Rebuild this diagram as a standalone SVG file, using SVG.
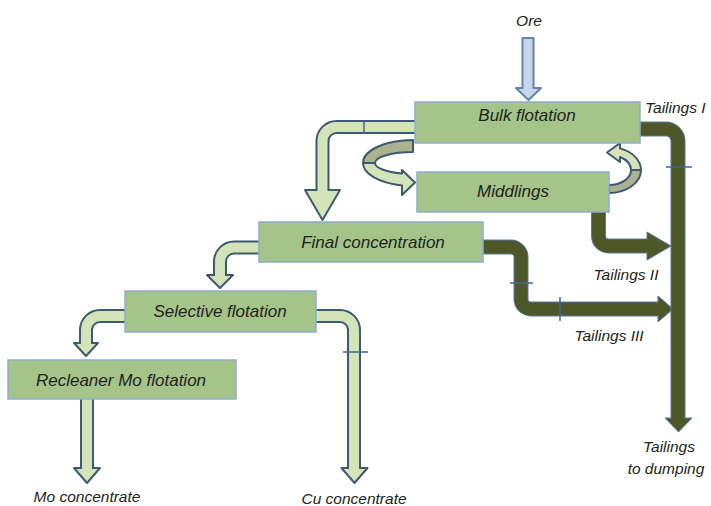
<svg xmlns="http://www.w3.org/2000/svg" width="711" height="506" viewBox="0 0 711 506">
<style>
text{font-family:"Liberation Sans",Arial,sans-serif;font-style:italic;fill:#231f20}
.bt{font-size:17px;text-anchor:middle}
.lb{font-size:15.5px}
.box{fill:#a4c48a;stroke:#8fadd0;stroke-width:1.5}
.po{fill:none;stroke:#3d5a73;stroke-width:14}
.pi{fill:none;stroke:#d5e4b8;stroke-width:10}
.ph{fill:#d5e4b8;stroke:#3d5a73;stroke-width:2;stroke-linejoin:round}
.to{fill:none;stroke:#5a7aa5;stroke-width:15}
.ti{fill:none;stroke:#4d5727;stroke-width:13}
.th{fill:#4d5727;stroke:#5a7aa5;stroke-width:1}
.tick{stroke:#3f64a0;stroke-width:1.5;fill:none}
.cdark{fill:#aab28f;stroke:#3d5a73;stroke-width:2;stroke-linejoin:round}
.clight{fill:#d5e4b8;stroke:#3d5a73;stroke-width:2;stroke-linejoin:round}
</style>
<rect width="711" height="506" fill="#ffffff"/>
<g id="connectors">
  <!-- Ore arrow -->
  <g id="ore-arrow">
    <path d="M522.5,38 H533.5 V88 H541 L528.5,100 L516,88 H522.5 Z" fill="#c6d6ec" stroke="#6584ac" stroke-width="2" stroke-linejoin="round"/>
  </g>
  <!-- Bulk -> Final concentration -->
  <g id="c-bulk-final">
    <path class="po" d="M415,127 H336.5 A14,14 0 0 0 322.5,141 V191"/>
    <polygon class="ph" points="305,190 340,190 322.5,220"/>
    <path class="pi" d="M416,127 H336.5 A14,14 0 0 0 322.5,141 V192"/>
    <line class="tick" x1="364" y1="120.5" x2="364" y2="133.5" stroke="#3d5a73"/>
  </g>
  <!-- Bulk -> Middlings curved arrow -->
  <g id="c-bulk-middlings">
    <path class="cdark" d="M413,140 A50,23 0 0 0 363,163 L375,163 A38,11 0 0 1 413,152 Z"/>
    <path class="clight" d="M363,163 A50,23 0 0 0 402,185.4 L402,195 L415,182.5 L402,170 L402,173.5 A38,11 0 0 1 375,163 Z"/>
  </g>
  <!-- Middlings -> Bulk curved arrow -->
  <g id="c-middlings-bulk">
    <path class="cdark" d="M609,193 A32,23 0 0 0 641,170 L631,170 A22,15 0 0 1 609,185 Z"/>
    <path class="clight" d="M641,170 A32,23 0 0 0 620,148.4 L620,143 L607,152.5 L620,162 L620,157 A22,15 0 0 1 631,170 Z"/>
  </g>
  <!-- Final -> Selective -->
  <g id="c-final-selective">
    <path class="po" d="M259,247.5 H234 A14,14 0 0 0 220,261.5 V276"/>
    <polygon class="ph" points="207,275 233,275 220,288"/>
    <path class="pi" d="M260,247.5 H234 A14,14 0 0 0 220,261.5 V277"/>
  </g>
  <!-- Selective -> Recleaner -->
  <g id="c-selective-recleaner">
    <path class="po" d="M125,316 H100 A14,14 0 0 0 86,330 V344"/>
    <polygon class="ph" points="74,343 98,343 86,356"/>
    <path class="pi" d="M126,316 H100 A14,14 0 0 0 86,330 V345"/>
  </g>
  <!-- Selective -> Cu concentrate -->
  <g id="c-selective-cu">
    <path class="po" d="M316,316 H340 A14,14 0 0 1 354,330 V469"/>
    <polygon class="ph" points="341.5,468 367.5,468 354.5,483"/>
    <path class="pi" d="M315,316 H340 A14,14 0 0 1 354,330 V470"/>
    <line class="tick" x1="343" y1="352" x2="368" y2="352" stroke="#3d5a73"/>
  </g>
  <!-- Recleaner -> Mo concentrate -->
  <g id="c-recleaner-mo">
    <path class="po" d="M87,399 V469"/>
    <polygon class="ph" points="74,468 100,468 87,483"/>
    <path class="pi" d="M87,398 V470"/>
  </g>
  <!-- Tailings II -->
  <g id="c-tailings2">
    <path class="to" d="M598.5,212 V236 A10,10 0 0 0 608.5,246 H648"/>
    <polygon class="th" points="647,232 647,260 671,246"/>
    <path class="ti" d="M598.5,212 V236 A10,10 0 0 0 608.5,246 H649"/>
  </g>
  <!-- Tailings III -->
  <g id="c-tailings3">
    <path class="to" d="M483,247 H511 A10,10 0 0 1 521,257 V299 A10,10 0 0 0 531,309 H659"/>
    <polygon class="th" points="658,296 658,322 673,309"/>
    <path class="ti" d="M483,247 H511 A10,10 0 0 1 521,257 V299 A10,10 0 0 0 531,309 H660"/>
    <line class="tick" x1="510" y1="283" x2="533" y2="283"/>
    <line class="tick" x1="560" y1="297" x2="560" y2="321"/>
  </g>
  <!-- Tailings I to dumping -->
  <g id="c-tailings1">
    <path class="to" d="M640,129 H666 A12,12 0 0 1 678,141 V419"/>
    <polygon class="th" points="665,418 692,418 678.5,432"/>
    <path class="ti" d="M640,129 H666 A12,12 0 0 1 678,141 V420"/>
    <line class="tick" x1="666" y1="167" x2="692" y2="167"/>
  </g>
</g>
<g id="bulk-flotation">
  <rect class="box" x="415" y="102" width="225" height="41"/>
  <text class="bt" x="527" y="121">Bulk flotation</text>
</g>
<g id="middlings">
  <rect class="box" x="417" y="172" width="192" height="40"/>
  <text class="bt" x="513" y="197">Middlings</text>
</g>
<g id="final-concentration">
  <rect class="box" x="259" y="222" width="224" height="40"/>
  <text class="bt" x="373" y="248">Final concentration</text>
</g>
<g id="selective-flotation">
  <rect class="box" x="125" y="291" width="191" height="41"/>
  <text class="bt" x="220" y="317">Selective flotation</text>
</g>
<g id="recleaner-mo-flotation">
  <rect class="box" x="8" y="360" width="228" height="39"/>
  <text class="bt" x="121" y="386">Recleaner Mo flotation</text>
</g>
<g id="labels">
  <text class="lb" x="529" y="26" text-anchor="middle">Ore</text>
  <text class="lb" x="645" y="113">Tailings I</text>
  <text class="lb" x="626" y="280" text-anchor="middle">Tailings II</text>
  <text class="lb" x="609" y="341" text-anchor="middle">Tailings III</text>
  <text class="lb" x="669" y="452" text-anchor="middle">Tailings</text>
  <text class="lb" x="666" y="474" text-anchor="middle">to dumping</text>
  <text class="lb" x="87" y="502" text-anchor="middle">Mo concentrate</text>
  <text class="lb" x="354" y="504" text-anchor="middle">Cu concentrate</text>
</g>
</svg>
